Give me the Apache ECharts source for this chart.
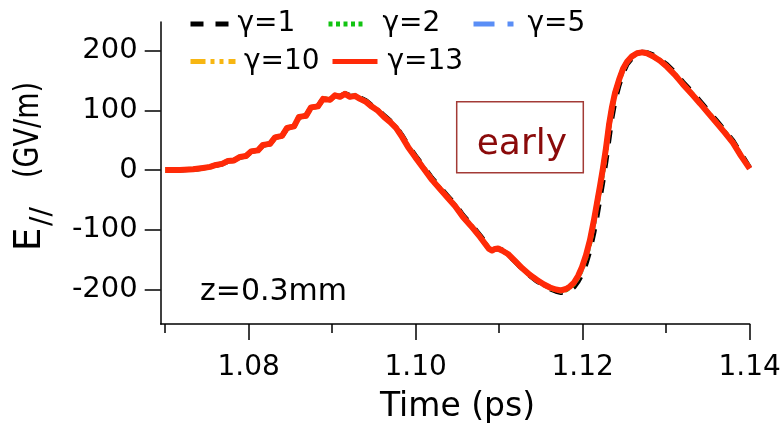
<!DOCTYPE html>
<html>
<head>
<meta charset="utf-8">
<script src="https://cdn.jsdelivr.net/npm/echarts@6/dist/echarts.min.js"></script>
<style>
  html, body { margin: 0; padding: 0; background: #fff; }
  #chart { width: 783px; height: 426px; }
</style>
</head>
<body>
<div id="chart"></div>
<script>
// Time samples (ps) shared by every trace
const timePs = [
  1.07000, 1.07177, 1.07333, 1.07453, 1.07537, 1.07608, 1.07680, 1.07752, 1.07824, 1.07896,
  1.07968, 1.08028, 1.08111, 1.08171, 1.08255, 1.08315, 1.08399, 1.08459, 1.08543, 1.08602,
  1.08686, 1.08746, 1.08830, 1.08890, 1.08974, 1.09034, 1.09093, 1.09153, 1.09213, 1.09273,
  1.09333, 1.09405, 1.09477, 1.09549, 1.09620, 1.09692, 1.09764, 1.09836, 1.09908, 1.09992,
  1.10099, 1.10195, 1.10291, 1.10375, 1.10471, 1.10566, 1.10662, 1.10770, 1.10842, 1.10878,
  1.10914, 1.10950, 1.10986, 1.11034, 1.11105, 1.11189, 1.11273, 1.11369, 1.11453, 1.11537,
  1.11608, 1.11680, 1.11740, 1.11800, 1.11848, 1.11896, 1.11944, 1.11992, 1.12040, 1.12087,
  1.12135, 1.12171, 1.12207, 1.12243, 1.12279, 1.12315, 1.12351, 1.12387, 1.12435, 1.12483,
  1.12531, 1.12590, 1.12650, 1.12710, 1.12770, 1.12842, 1.12926, 1.13010, 1.13105, 1.13201,
  1.13309, 1.13405, 1.13501, 1.13608, 1.13704, 1.13800, 1.13896, 1.14000
];

// Longitudinal field E// (GV/m) for each gamma
const fieldG1 = [
  0, 0, 1.2, 3.2, 5.0, 8.0, 10.2, 14.6, 16.5, 21.4,
  23.6, 30.4, 33.2, 41.5, 44.2, 54.0, 57.6, 70.0, 73.6, 88.5,
  91.3, 104.6, 107.4, 119.0, 119.0, 124.6, 124.0, 128.2, 125.0, 125.3,
  121.5, 116.5, 108.2, 101.6, 91.6, 83.0, 73.2, 58.4, 41.6, 25.0,
  5.2, -13.4, -28.6, -42.2, -57.2, -75.6, -90.6, -109.2, -122.6, -131.0,
  -134.2, -132.6, -132.0, -134.0, -141.6, -153.2, -165.2, -177.2, -186.4, -193.8,
  -199.2, -203.2, -205.4, -204.2, -201.0, -196.0, -187.0, -175.0, -157.0, -135.0,
  -104.0, -78.0, -48.0, -18.0, 15.0, 52.0, 88.0, 116.0, 142.0, 163.0,
  177.5, 188.0, 194.5, 197.6, 197.2, 193.2, 186.2, 176.6, 163.6, 147.6,
  131.0, 115.6, 99.6, 82.0, 66.0, 49.0, 27.5, 4.0
];
const fieldG2 = [
  0, 0, 1.4, 3.5, 5.3, 8.5, 10.4, 15.1, 16.4, 21.9,
  23.8, 31.0, 33.2, 42.0, 44.1, 54.6, 57.5, 70.5, 73.4, 89.0,
  91.1, 105.0, 107.0, 119.3, 118.2, 125.2, 123.2, 128.0, 123.5, 124.8,
  120.0, 115.0, 106.8, 100.0, 90.0, 81.6, 71.5, 56.5, 39.8, 23.0,
  3.0, -15.5, -30.8, -44.2, -59.4, -77.8, -92.9, -111.4, -124.9, -131.9,
  -134.7, -132.3, -131.6, -134.6, -141.0, -152.7, -164.5, -176.3, -184.8, -192.4,
  -197.6, -201.0, -202.8, -200.8, -197.0, -190.5, -180.0, -165.5, -146.0, -121.0,
  -88.0, -59.5, -31.0, -0.5, 33.0, 72.0, 103.0, 127.5, 150.0, 169.0,
  181.0, 190.5, 195.8, 197.5, 196.0, 191.2, 183.8, 173.8, 160.4, 144.5,
  127.8, 112.6, 96.8, 79.2, 63.2, 46.6, 24.8, 3.0
];
const fieldG5 = [
  0, 0, 1.5, 3.6, 5.4, 8.6, 10.4, 15.3, 16.3, 22.1,
  23.8, 31.3, 33.1, 42.2, 44.0, 54.8, 57.4, 70.7, 73.3, 89.2,
  91.0, 105.1, 106.9, 119.4, 117.9, 125.3, 123.0, 127.9, 123.1, 124.6,
  119.7, 114.7, 106.4, 99.7, 89.6, 81.2, 71.1, 56.0, 39.3, 22.6,
  2.4, -16.0, -31.2, -44.6, -59.8, -78.2, -93.3, -111.8, -125.2, -132.0,
  -134.8, -132.2, -131.5, -134.7, -140.8, -152.5, -164.3, -176.0, -184.5, -192.0,
  -197.2, -200.6, -202.3, -200.0, -196.0, -189.5, -178.8, -164.0, -144.2, -119.2,
  -86.0, -57.4, -28.8, 1.5, 35.2, 74.0, 104.6, 128.6, 150.8, 169.5,
  181.3, 190.7, 195.9, 197.5, 195.9, 191.0, 183.5, 173.5, 160.1, 144.1,
  127.4, 112.2, 96.4, 78.8, 62.8, 46.1, 24.3, 2.8
];
const fieldG10 = [
  0, 0, 1.5, 3.7, 5.4, 8.7, 10.4, 15.4, 16.3, 22.2,
  23.8, 31.4, 33.1, 42.3, 44.0, 54.9, 57.4, 70.8, 73.3, 89.3,
  91.0, 105.2, 106.9, 119.5, 117.8, 125.4, 122.9, 127.9, 122.9, 124.5,
  119.5, 114.6, 106.2, 99.5, 89.4, 81.0, 70.9, 55.8, 39.0, 22.3,
  2.1, -16.3, -31.5, -44.9, -60.0, -78.4, -93.5, -112.0, -125.4, -132.1,
  -134.8, -132.2, -131.4, -134.8, -140.7, -152.4, -164.2, -175.9, -184.4, -191.9,
  -197.0, -200.4, -202.1, -199.7, -195.6, -189.0, -178.2, -163.2, -143.2, -118.2,
  -84.8, -56.2, -27.6, 2.6, 36.2, 75.0, 105.4, 129.1, 151.1, 169.7,
  181.5, 190.8, 195.9, 197.5, 195.9, 190.9, 183.4, 173.3, 159.9, 143.9,
  127.2, 112.0, 96.1, 78.5, 62.5, 45.8, 23.9, 2.6
];
const fieldG13 = [
  0, 0, 1.5, 3.7, 5.4, 8.7, 10.4, 15.4, 16.3, 22.2,
  23.8, 31.4, 33.1, 42.3, 44.0, 54.9, 57.4, 70.8, 73.3, 89.3,
  91.0, 105.2, 106.9, 119.5, 117.8, 125.4, 122.9, 127.9, 122.9, 124.5,
  119.5, 114.5, 106.1, 99.4, 89.3, 80.9, 70.8, 55.7, 38.9, 22.2,
  2.0, -16.4, -31.6, -45.0, -60.1, -78.5, -93.6, -112.1, -125.5, -132.2,
  -134.8, -132.2, -131.4, -134.8, -140.7, -152.4, -164.2, -175.9, -184.3, -191.8,
  -196.9, -200.2, -201.9, -199.4, -195.2, -188.5, -177.6, -162.5, -142.3, -117.2,
  -83.6, -55.1, -26.5, 3.7, 37.3, 75.9, 106.1, 129.6, 151.4, 169.9,
  181.6, 190.8, 195.9, 197.5, 195.9, 190.8, 183.3, 173.2, 159.8, 143.8,
  127.1, 111.9, 96.0, 78.4, 62.4, 45.7, 23.8, 2.5
];

// Axis ticks
const xMajorTicks = [1.08, 1.10, 1.12, 1.14];
const xMinorTicks = [1.07, 1.09, 1.11, 1.13];
const yTicks = [-200, -100, 0, 100, 200];

const seriesNames = ['γ=1', 'γ=2', 'γ=5', 'γ=10', 'γ=13'];
const seriesFields = [fieldG1, fieldG2, fieldG5, fieldG10, fieldG13];
const seriesColors = ['#000000', '#12c412', '#5a8ef6', '#f7b612', '#ff2a08'];
const seriesDash = [[13, 12], [4, 3.5], [21, 13, 6, 13], [15, 5, 4, 5, 4, 5], 'solid'];
const seriesWidth = [5, 5, 5, 5, 6];

const FONT = 'DejaVu Sans';

const chart = echarts.init(document.getElementById('chart'), null, { renderer: 'canvas' });

const series = seriesNames.map((name, i) => ({
  name,
  type: 'line',
  xAxisIndex: 0,
  yAxisIndex: 0,
  showSymbol: false,
  symbol: 'none',
  clip: true,
  lineStyle: { color: seriesColors[i], width: seriesWidth[i], type: seriesDash[i], cap: 'butt', join: 'round' },
  itemStyle: { color: seriesColors[i] },
  data: timePs.map((t, k) => [t, seriesFields[i][k]]),
  z: 2 + i
}));

// one legend block per entry so the three columns line up
const legendSlots = [
  { name: 'γ=1', left: 188, top: 9, w: 39, pad: 3 },
  { name: 'γ=2', left: 326, top: 9, w: 37, pad: 12 },
  { name: 'γ=5', left: 471, top: 9, w: 40, pad: 9 },
  { name: 'γ=10', left: 188, top: 46.5, w: 45, pad: 3.5 },
  { name: 'γ=13', left: 330, top: 46.5, w: 45, pad: 5 }
];
const legends = legendSlots.map(s => ({
  data: [s.name],
  left: s.left,
  top: s.top,
  padding: 0,
  itemGap: 0,
  itemWidth: s.w,
  itemHeight: 14,
  selectedMode: false,
  itemStyle: { opacity: 0 },
  lineStyle: { width: 5 },
  textStyle: { fontFamily: FONT, fontSize: 28, color: '#000', lineHeight: 30, padding: [0, 0, 0, s.pad] }
}));

const axisLineStyle = { color: '#000', width: 1.5 };

const option = {
  animation: false,
  backgroundColor: '#fff',
  grid: { left: 160.7, right: 33.3, top: 22, bottom: 102, containLabel: false, outerBoundsMode: 'none' },
  legend: legends,
  xAxis: [
    {
      type: 'value',
      min: 1.06946,
      max: 1.14,
      position: 'bottom',
      axisLine: { show: true, onZero: false, lineStyle: axisLineStyle },
      axisTick: { show: true, customValues: xMajorTicks, length: 16, lineStyle: axisLineStyle },
      axisLabel: {
        show: true, customValues: xMajorTicks, margin: 30,
        fontFamily: FONT, fontSize: 28, color: '#000',
        formatter: v => v.toFixed(2)
      },
      splitLine: { show: false }
    },
    {
      type: 'value',
      min: 1.06946,
      max: 1.14,
      position: 'bottom',
      axisLine: { show: false, onZero: false },
      axisTick: { show: true, customValues: xMinorTicks, length: 9, lineStyle: axisLineStyle },
      axisLabel: { show: false },
      splitLine: { show: false }
    }
  ],
  yAxis: {
    type: 'value',
    min: -258.1,
    max: 248.4,
    axisLine: { show: true, onZero: false, lineStyle: axisLineStyle },
    axisTick: { show: true, customValues: yTicks, length: 16, lineStyle: axisLineStyle },
    axisLabel: { show: true, customValues: yTicks, margin: 23, fontFamily: FONT, fontSize: 29, color: '#000' },
    splitLine: { show: false }
  },
  series,
  graphic: [
    // axis titles
    {
      type: 'text', x: 457.5, y: 407.5, silent: true,
      style: { text: 'Time (ps)', font: '33px "DejaVu Sans"', fill: '#000', textAlign: 'center', textVerticalAlign: 'middle', align: 'center', verticalAlign: 'middle' }
    },
    {
      type: 'text', x: 30, y: 251, rotation: Math.PI / 2, silent: true,
      style: { text: 'E', font: '37px "DejaVu Sans"', fill: '#000', textAlign: 'left', textVerticalAlign: 'middle', align: 'left', verticalAlign: 'middle' }
    },
    {
      type: 'text', x: 42.5, y: 226, rotation: Math.PI / 2, silent: true,
      style: { text: '//', font: '28px "DejaVu Sans"', fill: '#000', textAlign: 'left', textVerticalAlign: 'middle', align: 'left', verticalAlign: 'middle' }
    },
    {
      type: 'text', x: 29.2, y: 178, rotation: Math.PI / 2, scaleX: 0.82, silent: true,
      style: { text: '(GV/m)', font: '33px "DejaVu Sans"', fill: '#000', textAlign: 'left', textVerticalAlign: 'middle', align: 'left', verticalAlign: 'middle' }
    },
    // annotations
    {
      type: 'text', x: 200, y: 291.8, silent: true,
      style: { text: 'z=0.3mm', font: '30px "DejaVu Sans"', fill: '#000', textAlign: 'left', textVerticalAlign: 'middle', align: 'left', verticalAlign: 'middle' }
    },
    {
      type: 'rect', silent: true,
      shape: { x: 456.7, y: 101.7, width: 126.6, height: 71 },
      style: { fill: 'none', stroke: '#a33b36', lineWidth: 1.5 }
    },
    {
      type: 'text', x: 476.7, y: 144.3, silent: true,
      style: { text: 'early', font: '36px "DejaVu Sans"', fill: '#8a0a0a', textAlign: 'left', textVerticalAlign: 'middle', align: 'left', verticalAlign: 'middle' }
    }
  ]
};

chart.setOption(option);
</script>
</body>
</html>
